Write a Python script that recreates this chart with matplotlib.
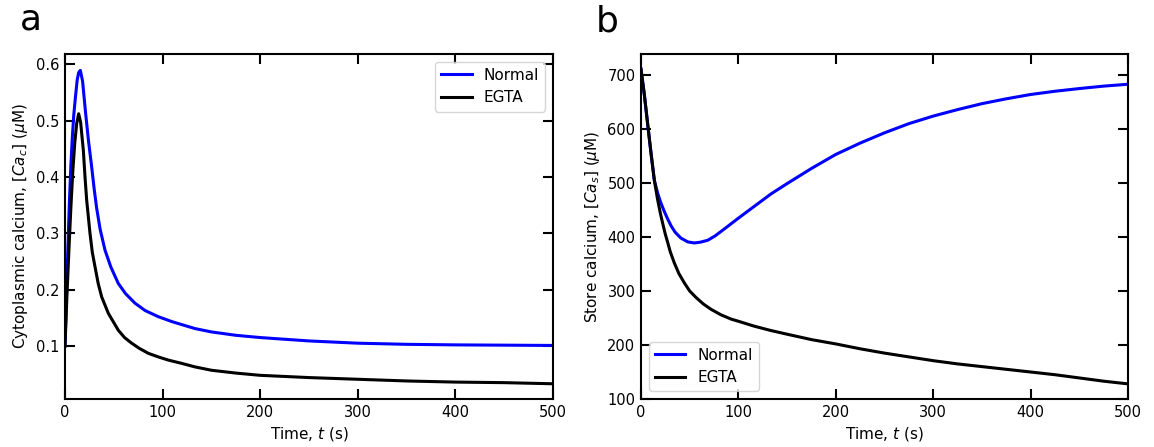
import matplotlib
matplotlib.use('Agg')
import matplotlib.pyplot as plt
import numpy as np

# values
# panel a: cytoplasmic calcium (uM) vs time (s)
t_cyt_normal = [0, 1, 2, 3.1, 4.4, 6, 7.5, 9, 10.6, 12.5, 14, 15.7, 18, 21, 24, 27.3, 30,
                32.4, 36, 41, 47, 54.6, 62, 71.7, 82, 95.6, 110, 133, 150, 175, 200, 250,
                300, 350, 400, 450, 500]
ca_cyt_normal = [0.10, 0.16, 0.22, 0.28, 0.35, 0.42, 0.47, 0.51, 0.54, 0.572, 0.585, 0.589,
                 0.570, 0.515, 0.465, 0.418, 0.377, 0.345, 0.307, 0.270, 0.240, 0.211, 0.193,
                 0.176, 0.163, 0.152, 0.143, 0.131, 0.125, 0.119, 0.115, 0.109, 0.105,
                 0.103, 0.102, 0.1015, 0.101]

t_cyt_egta = [0, 2, 4, 6, 8, 10, 12, 14, 16, 18.8, 20.5, 22.2, 25.6, 28, 30.7, 34, 37.6,
              44.4, 54.6, 61, 68.3, 76, 85.4, 95, 105.9, 120, 133, 150, 175, 200, 250, 300,
              350, 400, 450, 500]
ca_cyt_egta = [0.10, 0.19, 0.27, 0.345, 0.41, 0.46, 0.495, 0.512, 0.497, 0.447, 0.40, 0.359,
               0.300, 0.266, 0.241, 0.211, 0.187, 0.158, 0.128, 0.115, 0.105, 0.096, 0.087,
               0.081, 0.075, 0.069, 0.063, 0.057, 0.052, 0.048, 0.044, 0.041, 0.038, 0.036,
               0.035, 0.033]

# panel b: store calcium (uM) vs time (s)
t_store_normal = [0, 3.4, 6.8, 10.3, 13.7, 17, 20, 24, 27.5, 30.8, 35, 41, 48, 54.8, 61,
                  68.5, 76, 85.6, 99.3, 116.4, 133.6, 150, 175, 200, 225, 250, 275, 300,
                  325, 350, 375, 400, 425, 450, 475, 500]
ca_store_normal = [711, 664, 610, 555, 505, 482, 465, 447, 433, 421, 409, 398, 391, 389,
                   390.5, 394, 402, 415, 434, 457, 480, 499, 527, 553, 574, 593, 610, 624,
                   636, 647, 656, 664, 670, 675, 679.5, 683]

t_store_egta = [0, 3.4, 6.8, 10.3, 13.7, 17, 20, 22.3, 25, 27.4, 30, 34.2, 39, 44.5, 50,
                56.5, 64, 72, 82, 92.5, 100, 116, 133, 150, 175, 200, 225, 250, 275, 300,
                325, 350, 375, 400, 425, 450, 475, 500]
ca_store_egta = [711, 664, 610, 555, 505, 470, 443, 425, 405, 390, 373, 352, 332, 315, 300,
                 288, 276, 266, 256, 248, 244, 235, 227, 220, 210, 202, 193, 185, 178, 171,
                 165, 160, 155, 150, 145, 139, 133, 128]

labels = ['Normal', 'EGTA']
colors = ['#0000ff', 'black']

plt.rcParams['font.family'] = 'DejaVu Sans'
plt.rcParams['mathtext.fontset'] = 'dejavusans'

fig = plt.figure(figsize=(11.54, 4.47), dpi=100)
ax0 = fig.add_axes([65 / 1154, 1 - 399 / 447, 488 / 1154, 345 / 447])
ax1 = fig.add_axes([641 / 1154, 1 - 399 / 447, 487 / 1154, 345 / 447])

ax0.plot(t_cyt_normal, ca_cyt_normal, color=colors[0], lw=2.2, label=labels[0])
ax0.plot(t_cyt_egta, ca_cyt_egta, color=colors[1], lw=2.2, label=labels[1])
ax0.set_xlim(0, 500)
ax0.set_ylim(0.006, 0.618)
ax0.set_yticks([0.1, 0.2, 0.3, 0.4, 0.5, 0.6])
ax0.set_ylabel(r'Cytoplasmic calcium, [$Ca_c$] ($\mu$M)', fontsize=11)
ax0.legend(loc='upper right', fontsize=11)

ax1.plot(t_store_normal, ca_store_normal, color=colors[0], lw=2.2, label=labels[0])
ax1.plot(t_store_egta, ca_store_egta, color=colors[1], lw=2.2, label=labels[1])
ax1.set_xlim(0, 500)
ax1.set_ylim(100, 739)
ax1.set_yticks([100, 200, 300, 400, 500, 600, 700])
ax1.set_ylabel(r'Store calcium, [$Ca_s$] ($\mu$M)', fontsize=11)
ax1.legend(loc='lower left', fontsize=11)

for ax in (ax0, ax1):
    ax.set_xticks([0, 100, 200, 300, 400, 500])
    ax.set_xlabel(r'Time, $t$ (s)', fontsize=11)
    ax.tick_params(direction='in', length=7, width=1.5, top=True, right=True,
                   labelsize=10.5, pad=4)
    for sp in ax.spines.values():
        sp.set_linewidth(1.5)

fig.text(20 / 1154, 1 - 30 / 447, 'a', fontsize=26, va='baseline')
fig.text(596 / 1154, 1 - 31 / 447, 'b', fontsize=26, va='baseline')

plt.savefig('out.png', dpi=100)
plt.close('all')
